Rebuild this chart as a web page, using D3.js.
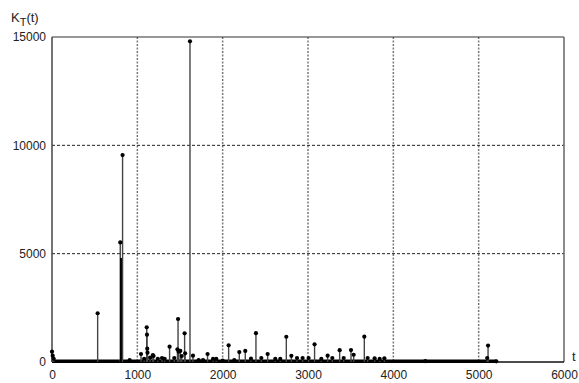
<!DOCTYPE html>
<html>
<head>
<meta charset="utf-8">
<script src="https://cdn.jsdelivr.net/npm/d3@7"></script>
<style>
  body { margin: 0; background: #fff; }
  svg text { font-family: "Liberation Sans", Arial, sans-serif; }
</style>
</head>
<body>
<div class="svg"></div>
<script>
// time points and K_T values
const times = [0, 8, 20, 535, 800, 806, 812, 818, 824, 827, 910, 1043, 1080, 1110, 1113, 1116, 1119,
  1150, 1182, 1190, 1240, 1289, 1320, 1378, 1433, 1470, 1477, 1484, 1504, 1520, 1554, 1560,
  1617, 1652, 1718, 1770, 1823, 1887, 1925, 2000, 2070, 2136, 2195, 2265, 2332, 2390, 2453,
  2527, 2617, 2675, 2746, 2805, 2871, 2937, 3007, 3077, 3156, 3230, 3285, 3371, 3418, 3504,
  3535, 3660, 3699, 3781, 3840, 3895, 4375, 5100, 5110, 5207];
const values = [475, 290, 150, 2250, 5520, 4800, 4800, 4800, 4800, 9550, 90, 370, 150, 1600, 1260, 615, 430,
  200, 320, 277, 150, 185, 150, 706, 185, 585, 1985, 475, 510, 277, 1325, 400,
  14800, 290, 90, 90, 370, 140, 140, 60, 770, 90, 460, 510, 155, 1330, 185,
  370, 140, 140, 1165, 285, 185, 185, 185, 815, 140, 290, 185, 545, 185, 550,
  335, 1170, 185, 170, 140, 170, 40, 185, 760, 30];
const xTicks = [0, 1000, 2000, 3000, 4000, 5000, 6000];
const yTicks = [0, 5000, 10000, 15000];

const margin = { top: 37, right: 15, bottom: 21, left: 52 };
const width = 579 - margin.left - margin.right;
const height = 383 - margin.top - margin.bottom;

const data = times.map((t, i) => ({ t: t, v: values[i] }));

const svg = d3.select('.svg').append('svg')
  .attr('width', 579)
  .attr('height', 383);

const g = svg.append('g').attr('transform', `translate(${margin.left}, ${margin.top})`);

const xScale = d3.scaleLinear().domain([0, 6000]).range([0, width]);
const yScale = d3.scaleLinear().domain([0, 15000]).range([height, 0]);

// grid
g.selectAll('.vgrid')
  .data(xTicks.slice(1, -1))
  .enter().append('line')
  .attr('x1', d => xScale(d)).attr('x2', d => xScale(d))
  .attr('y1', 0).attr('y2', height)
  .attr('stroke', '#7a7a7a')
  .attr('stroke-width', 1.5)
  .attr('stroke-dasharray', '2,1.5');

g.selectAll('.hgrid')
  .data(yTicks.slice(1, -1))
  .enter().append('line')
  .attr('x1', 0).attr('x2', width)
  .attr('y1', d => yScale(d)).attr('y2', d => yScale(d))
  .attr('stroke', '#222')
  .attr('stroke-width', 1)
  .attr('stroke-dasharray', '3,2');

// frame
g.append('line').attr('x1', 0).attr('x2', width).attr('y1', 0).attr('y2', 0)
  .attr('stroke', '#333').attr('stroke-width', 1.2);
g.append('line').attr('x1', width).attr('x2', width).attr('y1', 0).attr('y2', height)
  .attr('stroke', '#666').attr('stroke-width', 1.5);
g.append('line').attr('x1', 0).attr('x2', 0).attr('y1', 0).attr('y2', height)
  .attr('stroke', '#444').attr('stroke-width', 1.5);
g.append('line').attr('x1', 0).attr('x2', width).attr('y1', height).attr('y2', height)
  .attr('stroke', '#111').attr('stroke-width', 1.5);

// axes (labels only)
const xAxis = g.append('g')
  .attr('transform', `translate(0, ${height})`)
  .call(d3.axisBottom(xScale).tickValues(xTicks).tickSize(0).tickPadding(8).tickFormat(d3.format('d')));
xAxis.select('.domain').remove();
xAxis.selectAll('text').attr('font-size', 12).attr('fill', '#222');

const yAxis = g.append('g')
  .call(d3.axisLeft(yScale).tickValues(yTicks).tickSize(0).tickPadding(6).tickFormat(d3.format('d')));
yAxis.select('.domain').remove();
yAxis.selectAll('text').attr('font-size', 12).attr('fill', '#222');

// dense near-zero band along the data span
const span = d3.extent(times);
g.append('line')
  .attr('x1', xScale(span[0])).attr('x2', xScale(span[1]))
  .attr('y1', height - 0.8).attr('y2', height - 0.8)
  .attr('stroke', '#000').attr('stroke-width', 3.5);

// stems
g.selectAll('.stem')
  .data(data)
  .enter().append('line')
  .attr('class', 'stem')
  .attr('x1', d => xScale(d.t)).attr('x2', d => xScale(d.t))
  .attr('y1', height).attr('y2', d => yScale(d.v))
  .attr('stroke', d => d.v === 4800 ? '#000' : '#444')
  .attr('stroke-width', 1.4);

g.selectAll('.dot')
  .data(data.filter(d => d.v !== 4800))
  .enter().append('circle')
  .attr('class', 'dot')
  .attr('cx', d => xScale(d.t))
  .attr('cy', d => yScale(d.v))
  .attr('r', 2.1)
  .attr('fill', '#000');

// axis titles
const yTitle = svg.append('text').attr('x', 11).attr('y', 22).attr('font-size', 13).attr('fill', '#222');
yTitle.append('tspan').text('K');
yTitle.append('tspan').attr('dy', 4).attr('font-size', 11).text('T');
yTitle.append('tspan').attr('dy', -4).text('(t)');

svg.append('text').attr('x', 572).attr('y', 361).attr('font-size', 13).attr('fill', '#222').text('t');
</script>
</body>
</html>
